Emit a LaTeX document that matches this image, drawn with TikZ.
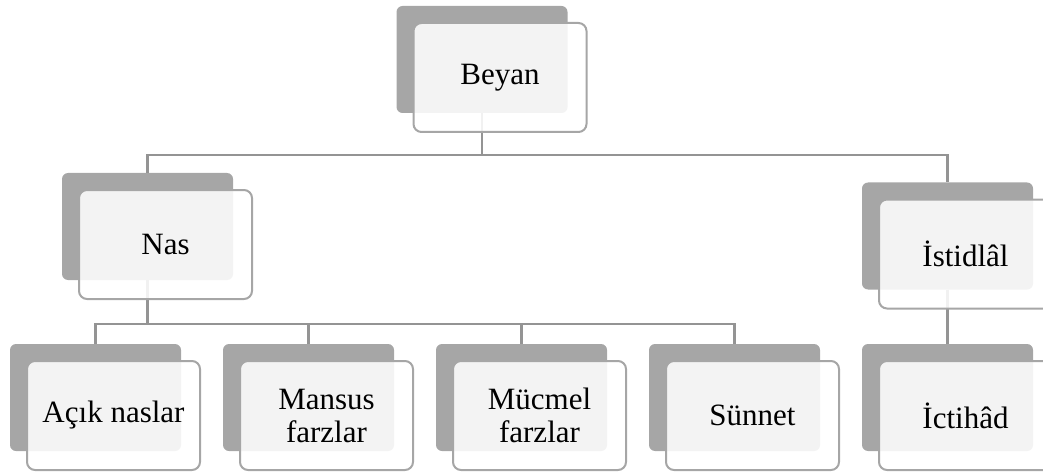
\documentclass[tikz,border=0pt]{standalone}
\usepackage{fontspec}
\setmainfont{Liberation Serif}
\usetikzlibrary{positioning}
\definecolor{backgray}{RGB}{166,166,166}
\definecolor{linegray}{RGB}{148,148,148}

\begin{document}
\begin{tikzpicture}
[every node/.style={inner sep=0pt,outer sep=0pt,font=\fontsize{31}{33}\selectfont},
 back/.style={rectangle,rounded corners=6pt,fill=backgray,minimum width=171pt,minimum height=107pt},
 front/.style={rectangle,rounded corners=8pt,draw=backgray,line width=2pt,fill=white,fill opacity=0.87,text opacity=1,
               minimum width=173pt,minimum height=109pt,align=center},
 conn/.style={draw=linegray,line width=2.6pt}]
\useasboundingbox (0,0) rectangle (1043pt,-473pt);

\node[back] (beyanB) at (482pt,-59.5pt) {};
\node[back] (nasB)    [on grid,below  left=167pt and 334.5pt of beyanB] {};
\node[back] (istB)    [on grid,below right=176.5pt and 465.5pt of beyanB] {};
\node[back] (acikB)   [on grid,below  left=171pt and  52pt of nasB] {};
\node[back] (mansusB) [on grid,below right=171pt and 161pt of nasB] {};
\node[back] (mucmelB) [on grid,below right=171pt and 374pt of nasB] {};
\node[back] (sunnetB) [on grid,below right=171pt and 587pt of nasB] {};
\node[back] (ictB)    [on grid,below=161.5pt of istB] {};

% connectors go behind the front boxes
\path (beyanB.south) -- ++(0,-42pt) coordinate (hub1);
\path (nasB.south)   -- ++(0,-44pt) coordinate (hub2);
\draw[conn] (beyanB.south) -- (hub1);
\draw[conn] (hub1) -| (nasB.north);
\draw[conn] (hub1) -| (istB.north);
\draw[conn] (nasB.south) -- (hub2);
\draw[conn] (hub2) -| (acikB.north);
\draw[conn] (hub2) -| (mansusB.north);
\draw[conn] (hub2) -| (mucmelB.north);
\draw[conn] (hub2) -| (sunnetB.north);
\draw[conn] (istB.south) -- (ictB.north);

\node[front] (beyan)  [on grid,below right=18pt and 18pt of beyanB]  {Beyan};
\node[front] (nas)    [on grid,below right=18pt and 18pt of nasB]    {Nas};
\node[front] (ist)    [on grid,below right=18pt and 18pt of istB]    {İstidlâl};
\node[front] (acik)   [on grid,below right=18pt and 18pt of acikB]   {Açık naslar};
\node[front] (mansus) [on grid,below right=18pt and 18pt of mansusB] {Mansus\\farzlar};
\node[front] (mucmel) [on grid,below right=18pt and 18pt of mucmelB] {Mücmel\\farzlar};
\node[front] (sunnet) [on grid,below right=18pt and 18pt of sunnetB] {Sünnet};
\node[front] (ict)    [on grid,below right=18pt and 18pt of ictB]    {İctihâd};
\end{tikzpicture}
\end{document}
